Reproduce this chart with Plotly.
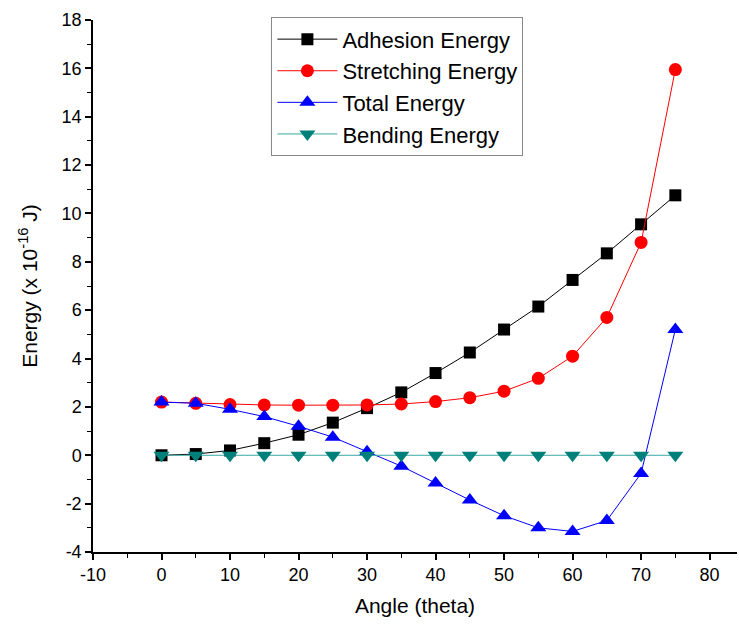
import plotly.graph_objects as go

angle = [0, 5, 10, 15, 20, 25, 30, 35, 40, 45, 50, 55, 60, 65, 70, 75]
adhesion = [0.0, 0.05, 0.2, 0.5, 0.85, 1.35, 1.95, 2.6, 3.4, 4.25, 5.2, 6.15, 7.25, 8.35, 9.55, 10.75]
stretching = [2.2, 2.15, 2.1, 2.08, 2.07, 2.07, 2.08, 2.12, 2.22, 2.38, 2.65, 3.18, 4.1, 5.7, 8.8, 15.95]
total = [2.2, 2.15, 1.9, 1.6, 1.2, 0.75, 0.15, -0.45, -1.15, -1.85, -2.5, -3.0, -3.15, -2.7, -0.75, 5.2]
bending = [0, 0, 0, 0, 0, 0, 0, 0, 0, 0, 0, 0, 0, 0, 0, 0]

x_ticks = [-10, 0, 10, 20, 30, 40, 50, 60, 70, 80]
y_ticks = [-4, -2, 0, 2, 4, 6, 8, 10, 12, 14, 16, 18]

series = [
    ("Adhesion Energy", adhesion, "#000000", "#000000", "square", 12),
    ("Stretching Energy", stretching, "#ff0000", "#ff0000", "circle", 13),
    ("Total Energy", total, "#0000ff", "#0000ff", "triangle-up", 14),
    ("Bending Energy", bending, "#3aa8a0", "#00807a", "triangle-down", 14),
]

fig = go.Figure()
for name, ys, lc, mc, sym, sz in series:
    fig.add_trace(go.Scatter(
        x=angle, y=ys, name=name, mode="lines+markers",
        line=dict(color=lc, width=1),
        marker=dict(symbol=sym, size=sz, color=mc, line=dict(width=0)),
    ))

FONT = "Arial, Liberation Sans, sans-serif"
axis_common = dict(
    showgrid=False, zeroline=False, showline=True, linecolor="black", linewidth=1.5,
    ticks="outside", ticklen=6, tickwidth=1.5, tickcolor="black",
    tickfont=dict(family=FONT, size=18, color="black"),
)

fig.update_xaxes(range=[-10, 84], tickmode="array", tickvals=x_ticks,
                 ticktext=[str(v) for v in x_ticks],
                 minor=dict(ticks="outside", ticklen=4, tickwidth=1.2, tickcolor="black", dtick=5, tick0=0),
                 title=dict(text="Angle (theta)", font=dict(family=FONT, size=21, color="black"), standoff=14),
                 **axis_common)
fig.update_yaxes(range=[-4, 18], tickmode="array", tickvals=y_ticks,
                 ticktext=[str(v) for v in y_ticks],
                 minor=dict(ticks="outside", ticklen=4, tickwidth=1.2, tickcolor="black", dtick=1, tick0=0),
                 title=dict(text="Energy (x 10<sup>-16</sup> J)", font=dict(family=FONT, size=21, color="black"), standoff=18),
                 **axis_common)

fig.update_layout(
    width=739, height=630,
    margin=dict(l=93, r=2, t=20, b=78),
    plot_bgcolor="white", paper_bgcolor="white",
    legend=dict(x=0.277, y=1.005, xanchor="left", yanchor="top",
                bordercolor="#888888", borderwidth=1, bgcolor="white",
                font=dict(family=FONT, size=22, color="black"),
                tracegroupgap=0, itemwidth=60),
    showlegend=True,
)

fig.write_html("out.html")
